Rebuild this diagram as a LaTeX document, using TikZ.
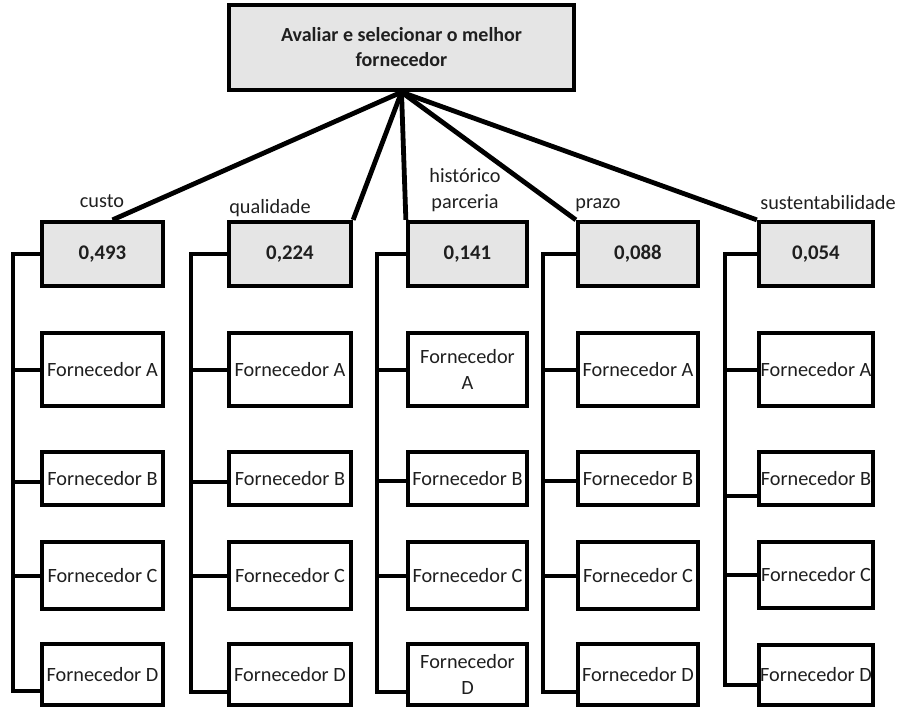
\documentclass[tikz,border=0pt]{standalone}
\usepackage{fontspec}
\setmainfont{Carlito}
\usetikzlibrary{calc}
% rectangle node given by its outer corners (x1,y1)-(x2,y2) in pixel units
\newcommand\boxnode[7]{%
  \node[#1, minimum width={(#5-#3-4)*0.75pt}, minimum height={(#6-#4-4)*0.75pt}]
    (#2) at ({(#3+#5)/2},{(#4+#6)/2}) {#7};}
\begin{document}
\begin{tikzpicture}[x=0.75pt,y=-0.75pt,
  txt/.style={font=\fontsize{15.2}{19.5}\selectfont, text=black!88},
  box/.style={txt, draw=black, line width=3.2pt, inner sep=0pt, align=center},
  crit/.style={box, fill=gray!20, font=\fontsize{15.6}{19}\selectfont\bfseries},
  goal/.style={crit, font=\fontsize{15}{18.75}\selectfont\bfseries},
  conn/.style={draw=black, line width=3pt},
  ray/.style={draw=black, line width=3.6pt},
  lbl/.style={txt, inner sep=0pt, align=center}
]
\useasboundingbox (0,0) rectangle (899,708);

% goal
\boxnode{goal}{top}{227}{3}{576}{92}{Avaliar e selecionar o melhor\\fornecedor}

% criteria
\boxnode{crit}{k1}{40}{220}{165}{288}{0,493}
\boxnode{crit}{k2}{227}{220}{353}{288}{0,224}
\boxnode{crit}{k3}{406}{220}{529}{288}{0,141}
\boxnode{crit}{k4}{576}{220}{700}{288}{0,088}
\boxnode{crit}{k5}{757}{220}{875}{288}{0,054}

% criterion labels
\node[lbl] (l1) at (102,201) {custo};
\node[lbl] (l2) at (270,208) {qualidade};
\node[lbl] (l3) at (465,190) {histórico\\parceria};
\node[lbl] (l4) at (598,205) {prazo};
\node[lbl] (l5) at (828,203) {sustentabilidade};

% alternatives
\boxnode{box}{a1}{40}{331}{165}{408}{Fornecedor A}
\boxnode{box}{b1}{40}{450}{165}{507}{Fornecedor B}
\boxnode{box}{c1}{40}{540}{165}{611}{Fornecedor C}
\boxnode{box}{d1}{40}{642}{165}{707}{Fornecedor D}

\boxnode{box}{a2}{227}{331}{353}{408}{Fornecedor A}
\boxnode{box}{b2}{227}{450}{353}{507}{Fornecedor B}
\boxnode{box}{c2}{227}{540}{353}{611}{Fornecedor C}
\boxnode{box}{d2}{227}{642}{353}{707}{Fornecedor D}

\boxnode{box}{a3}{406}{331}{529}{408}{Fornecedor\\A}
\boxnode{box}{b3}{406}{450}{529}{507}{Fornecedor B}
\boxnode{box}{c3}{406}{540}{529}{611}{Fornecedor C}
\boxnode{box}{d3}{406}{642}{529}{707}{Fornecedor\\D}

\boxnode{box}{a4}{576}{331}{700}{408}{Fornecedor A}
\boxnode{box}{b4}{576}{450}{700}{507}{Fornecedor B}
\boxnode{box}{c4}{576}{540}{700}{611}{Fornecedor C}
\boxnode{box}{d4}{576}{642}{700}{707}{Fornecedor D}

\boxnode{box}{a5}{757}{331}{875}{408}{Fornecedor A}
\boxnode{box}{b5}{757}{450}{875}{507}{Fornecedor B}
\boxnode{box}{c5}{757}{540}{875}{610}{Fornecedor C}
\boxnode{box}{d5}{757}{643}{875}{707}{Fornecedor D}

% rays from the goal to the criteria
\coordinate (apex) at (top.south);
\draw[ray] (apex) -- ($(k1.north west)!0.58!(k1.north east)$);
\draw[ray] (apex) -- (k2.north east);
\draw[ray] (apex) -- (k3.north west);
\draw[ray] (apex) -- (k4.north west);
\draw[ray] (apex) -- (k5.north west);

% trunks on the left of each column
\coordinate (t1) at (13,0);
\coordinate (t2) at (191,0);
\coordinate (t3) at (377,0);
\coordinate (t4) at (543,0);
\coordinate (t5) at (725,0);

\foreach \i/\dy in {1/-16,2/-15,3/-15,4/-15,5/-22}{
  \coordinate (e\i) at ($(d\i.south west)+(0,\dy)$);
  \draw[conn] (k\i.west) -| (t\i |- e\i) -- (e\i);
  \draw[conn] (t\i |- a\i.west) -- (a\i.west);
  \draw[conn] (t\i |- c\i.west) -- (c\i.west);
}
\foreach \i/\dy in {1/3,2/3,3/2,4/2,5/17}{
  \coordinate (f\i) at ($(b\i.west)+(0,\dy)$);
  \draw[conn] (t\i |- f\i) -- (f\i);
}
\end{tikzpicture}
\end{document}
